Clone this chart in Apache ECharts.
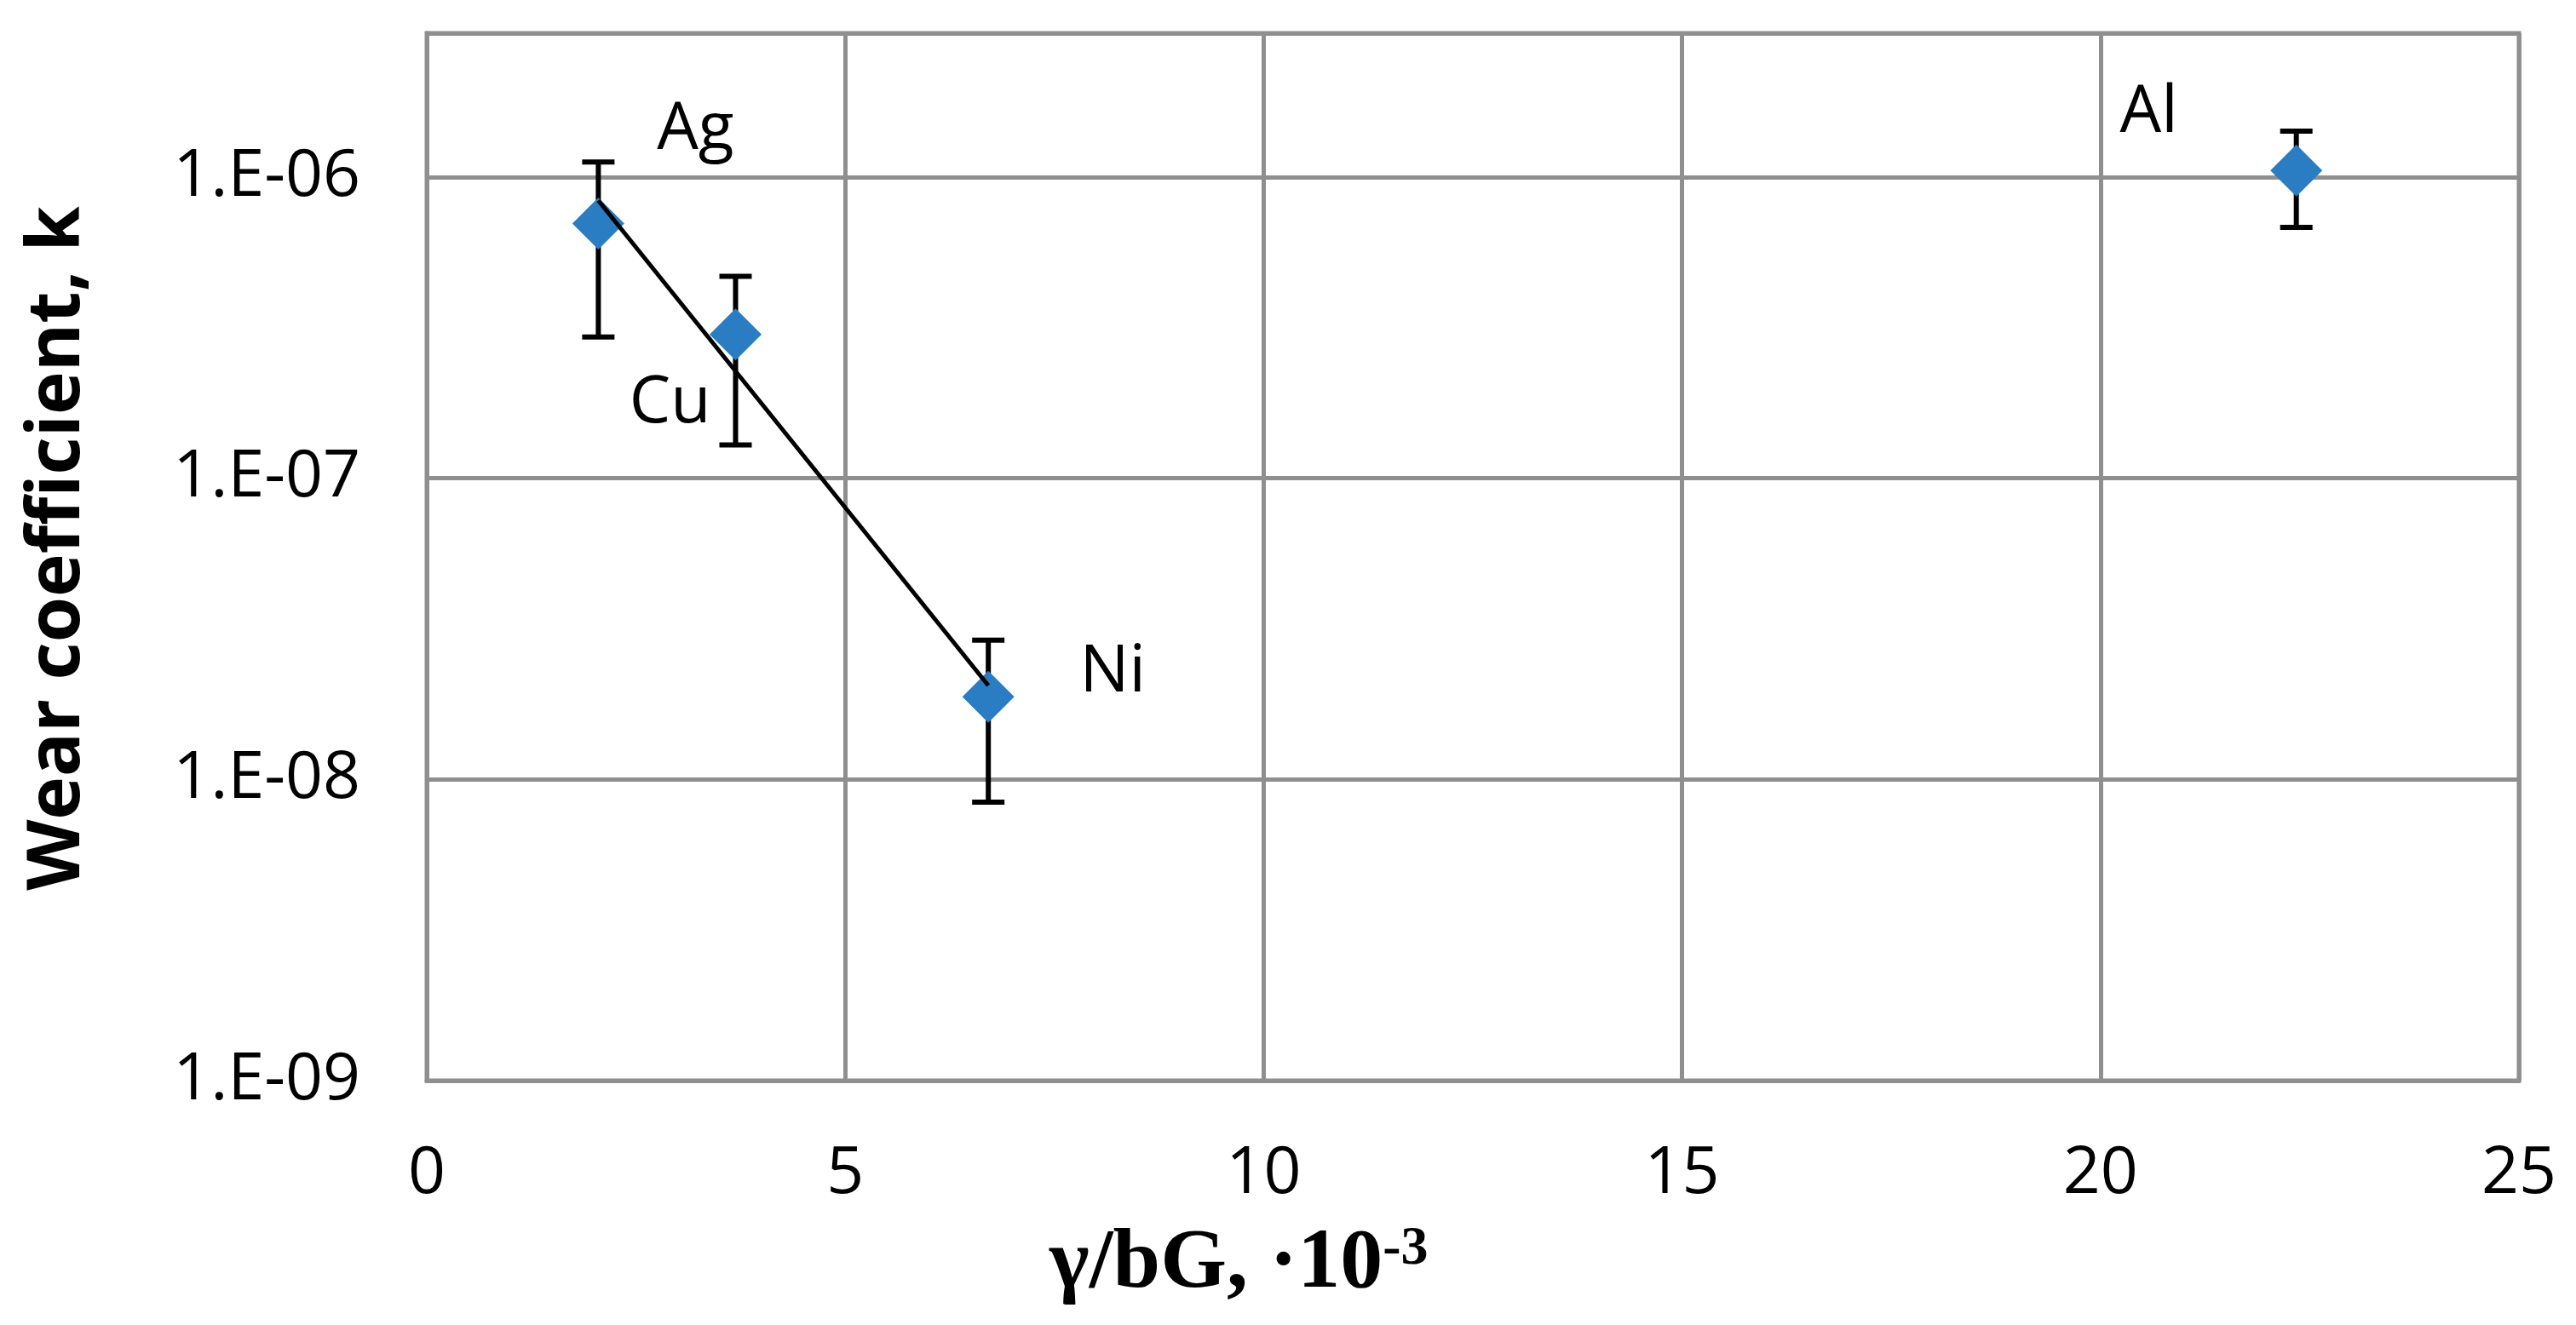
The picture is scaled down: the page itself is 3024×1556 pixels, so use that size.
<!DOCTYPE html>
<html>
<head>
<meta charset="utf-8">
<script src="https://cdn.jsdelivr.net/npm/echarts@6/dist/echarts.min.js"></script>
<style>
  html, body { margin: 0; padding: 0; background: #ffffff; }
  #chart { width: 3024px; height: 1556px; }
</style>
</head>
<body>
<div id="chart"></div>
<script>
// ---- data ----
const names = ['Ag', 'Cu', 'Ni', 'Al'];
const xVals = [2.05, 3.69, 6.71, 22.34];          // γ/bG, ·10^-3
const kVals = [7.0e-7, 3.0e-7, 1.88e-8, 1.05e-6];  // wear coefficient
const kLow  = [2.94e-7, 1.29e-7, 8.4e-9, 6.8e-7];  // error bar lower end
const kHigh = [1.12e-6, 4.68e-7, 2.9e-8, 1.42e-6]; // error bar upper end
const trendX = [2.05, 6.71];
const trendK = [8.35e-7, 2.05e-8];
const yTickLabels = ['1.E-09', '1.E-08', '1.E-07', '1.E-06'];
const yTickExponents = [-9, -8, -7, -6];

// ---- styling ----
const GRID_COLOR = '#8f8f8f';
const BLUE = '#2a7dc2';
const TICK_FONT = 'Open Sans';
const LABEL_OFFSET = { Ag: [114, -110], Cu: [-77, 81], Ni: [146, -28], Al: [-173, -67] };

const scatterData = names.map((n, i) => ({
  name: n,
  value: [xVals[i], kVals[i]],
  label: { offset: LABEL_OFFSET[n] }
}));
const errData = names.map((n, i) => [xVals[i], kLow[i], kHigh[i]]);
const trendData = trendX.map((x, i) => [x, trendK[i]]);

const chart = echarts.init(document.getElementById('chart'), null, { renderer: 'canvas' });

chart.setOption({
  backgroundColor: '#ffffff',
  animation: false,
  grid: {
    left: 501, right: 67, top: 39, bottom: 287,
    show: true, borderColor: GRID_COLOR, borderWidth: 5, backgroundColor: 'transparent'
  },
  title: {
    left: 1232, top: 1435, padding: 0,
    text: '{a|γ/bG, ·10}{b|-3}',
    textStyle: {
      rich: {
        a: { fontFamily: 'Liberation Serif', fontWeight: 'bold', fontSize: 100, lineHeight: 100, color: '#000' },
        b: { fontFamily: 'Liberation Serif', fontWeight: 'bold', fontSize: 64, lineHeight: 64, verticalAlign: 'top', color: '#000' }
      }
    }
  },
  graphic: [{
    type: 'text',
    x: 68, y: 644,
    rotation: Math.PI / 2,
    style: {
      text: 'Wear coefficient, k',
      fontFamily: 'Open Sans', fontWeight: 'bold', fontSize: 86,
      fill: '#000',
      align: 'center', verticalAlign: 'middle',
      textAlign: 'center', textVerticalAlign: 'middle'
    }
  }],
  xAxis: {
    type: 'value', min: 0, max: 25, interval: 5,
    axisLine: { show: true, lineStyle: { color: GRID_COLOR, width: 5 } },
    axisTick: { show: false },
    axisLabel: { color: '#000', fontFamily: TICK_FONT, fontSize: 77, margin: 72 },
    splitLine: { show: true, lineStyle: { color: GRID_COLOR, width: 5 } }
  },
  yAxis: {
    type: 'log', logBase: 10, min: 1e-9, max: 3e-6,
    axisLine: { show: true, lineStyle: { color: GRID_COLOR, width: 5 } },
    axisTick: { show: false },
    axisLabel: {
      color: '#000', fontFamily: TICK_FONT, fontSize: 77, margin: 78,
      formatter: function (v) {
        const l = Math.log10(v);
        const e = Math.round(l);
        if (Math.abs(l - e) > 1e-6) return '';
        const idx = yTickExponents.indexOf(e);
        return idx >= 0 ? yTickLabels[idx] : '';
      }
    },
    splitLine: { show: true, lineStyle: { color: GRID_COLOR, width: 5 } }
  },
  series: [
    {
      type: 'custom',
      name: 'error',
      z: 2,
      data: errData,
      encode: { x: 0, y: [1, 2] },
      renderItem: function (params, api) {
        const x = api.value(0);
        const lo = api.coord([x, api.value(1)]);
        const hi = api.coord([x, api.value(2)]);
        const hw = 19;
        const st = { stroke: '#000', lineWidth: 6 };
        return {
          type: 'group',
          children: [
            { type: 'line', shape: { x1: lo[0], y1: lo[1], x2: hi[0], y2: hi[1] }, style: st },
            { type: 'line', shape: { x1: hi[0] - hw, y1: hi[1], x2: hi[0] + hw, y2: hi[1] }, style: st },
            { type: 'line', shape: { x1: lo[0] - hw, y1: lo[1], x2: lo[0] + hw, y2: lo[1] }, style: st }
          ]
        };
      }
    },
    {
      type: 'scatter',
      name: 'k',
      z: 3,
      symbol: 'diamond',
      symbolSize: 61,
      itemStyle: { color: BLUE, opacity: 1 },
      label: {
        show: true,
        position: 'inside',
        formatter: '{b}',
        color: '#000',
        fontFamily: TICK_FONT,
        fontSize: 77
      },
      data: scatterData
    },
    {
      type: 'line',
      name: 'trend',
      z: 4,
      showSymbol: false,
      symbol: 'none',
      lineStyle: { color: '#000', width: 5 },
      data: trendData
    }
  ]
});
</script>
</body>
</html>
